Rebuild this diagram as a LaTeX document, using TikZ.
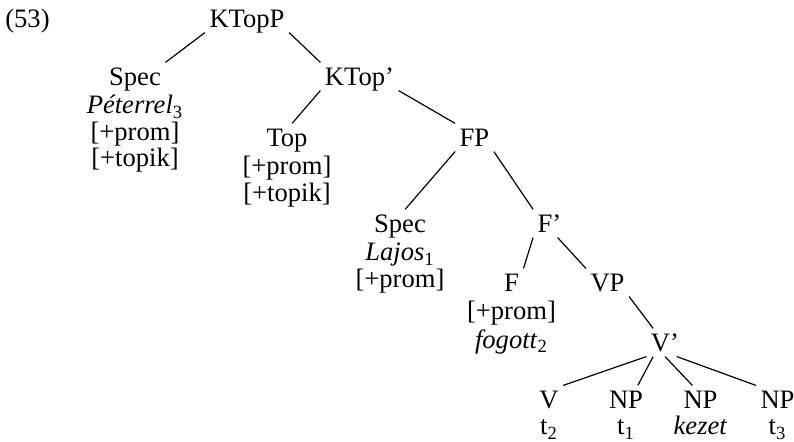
\documentclass[tikz,border=0pt]{standalone}
\usepackage{fontspec}
\setmainfont{Liberation Serif}
\usetikzlibrary{positioning}
\begin{document}
\begin{tikzpicture}[x=0.5pt, y=-0.5pt, line width=0.6pt,
		font=\fontsize{13.3pt}{13.25pt}\selectfont,
		cat/.style={anchor=base, inner xsep=2pt, inner ysep=1.5pt, text height=10pt, text depth=0.5pt},
		feat/.style={align=center, inner sep=0pt}]
		\useasboundingbox (0,0) rectangle (794,442);
		\node (ex) [cat] at (27.5,28) {(53)};
		\node (ktopp) [cat] at (247,28) {KTopP};
		\node (spec1) [cat] at (135,86) {Spec};
		\node (spec1f) [feat, below=2pt of spec1] {\strut\textit{Péterrel}\textsubscript{3}\\{}[+prom]\\{}[+topik]};
		\node (ktopb) [cat] at (359.5,86) {KTop'};
		\node (top) [cat] at (287,147) {Top};
		\node (topf) [feat, below=2pt of top] {\strut[+prom]\\{}[+topik]};
		\node (fp) [cat] at (474.5,147) {FP};
		\node (spec2) [cat] at (400,233) {Spec};
		\node (spec2f) [feat, below=2pt of spec2] {\strut\textit{Lajos}\textsubscript{1}\\{}[+prom]};
		\node (fbar) [cat] at (549.5,233) {F'};
		\node (f) [cat] at (511.5,292) {F};
		\node (ff) [feat, below=2pt of f] {\strut[+prom]\\\textit{fogott}\textsubscript{2}};
		\node (vp) [cat] at (607.5,292) {VP};
		\node (vbar) [cat] at (665,352) {V'};
		\node (v) [cat] at (549,409) {V};
		\node (vf) [feat, below=1pt of v] {\strut t\textsubscript{2}};
		\node (np1) [cat] at (626,409) {NP};
		\node (np1f) [feat, below=1pt of np1] {\strut t\textsubscript{1}};
		\node (np2) [cat] at (700.5,409) {NP};
		\node (np2f) [feat, below=1pt of np2] {\strut\textit{kezet}};
		\node (np3) [cat] at (777.5,409) {NP};
		\node (np3f) [feat, below=1pt of np3] {\strut t\textsubscript{3}};
		\draw (ktopp.south west) -- (spec1.north east);
		\draw (ktopp.south east) -- (ktopb.north west);
		\draw (ktopb.south west) -- (top.70);
		\draw (ktopb.south east) -- (fp.north west);
		\draw (fp.south west) -- (spec2.70);
		\draw (fp.south east) -- (fbar.north west);
		\draw (fbar.south west) -- (f.north east);
		\draw (fbar.-60) -- (vp.north west);
		\draw (vp.south east) -- (vbar.130);
		\draw (vbar.south west) -- (v.north east);
		\draw (vbar.-130) -- (np1.50);
		\draw (vbar.south) -- (np2.120);
		\draw (vbar.-50) -- (np3.north west);
	\end{tikzpicture}
\end{document}
